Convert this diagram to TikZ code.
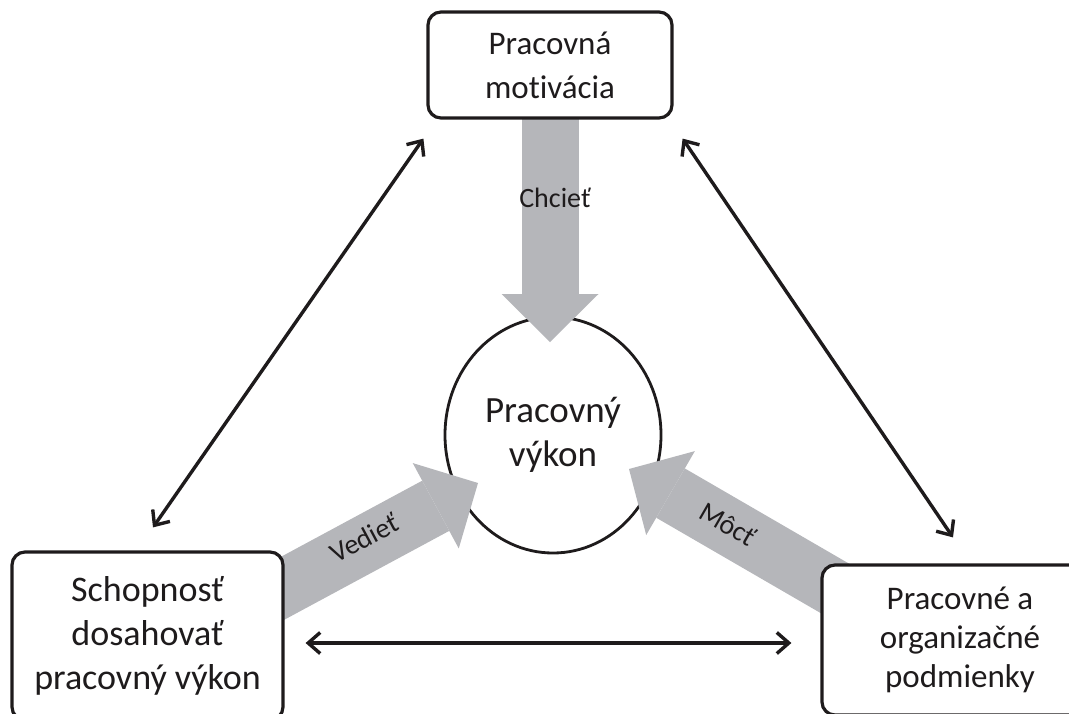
\documentclass[tikz,border=0pt]{standalone}
\usepackage{fontspec}
\setmainfont{Carlito}[Ligatures=NoCommon]
\usetikzlibrary{arrows.meta,calc,shapes.geometric}
\definecolor{ink}{RGB}{30,27,28}
\definecolor{flow}{RGB}{181,182,186}
\pgfdeclarelayer{back}
\pgfdeclarelayer{mid}
\pgfsetlayers{back,mid,main}
\begin{document}
\begin{tikzpicture}[x=1pt,y=-1pt,
  box/.style={draw=ink, line width=3.2pt, fill=white, rounded corners=13pt,
    align=center, inner sep=0pt, text=ink},
  perfnode/.style={draw=ink, line width=2.8pt, fill=white, ellipse,
    minimum width=216pt, minimum height=236pt, inner sep=0pt, align=center, text=ink},
  flowarrow/.style={draw=flow, line width=57pt,
    -{Triangle[width=97pt,length=48pt,line width=0pt]}},
  flowlabel/.style={font=\fontsize{28}{32}\selectfont, text=ink},
  link/.style={draw=ink, line width=3.4pt,
    {Straight Barb[length=12pt,width=21pt]}-{Straight Barb[length=12pt,width=21pt]}}
]
\clip (0,0) rectangle (1069,713);

% the three factor boxes
\node[box, minimum width=244pt, minimum height=106pt,
  font=\fontsize{33}{44}\selectfont] (mot) at (550,65) {Pracovná\\mot\kern0pt ivácia};
\node[box, minimum width=271pt, minimum height=168pt,
  font=\fontsize{36}{44}\selectfont] (sch) at (147.5,636) {Schopnosť\\dosahovať\\pracovný výkon};
\node[box, minimum width=276pt, minimum height=150pt,
  font=\fontsize{33}{39}\selectfont] (org) at (960,640) {Pracovné a\\organizačné\\podmienky};

% performance in the middle
\begin{pgfonlayer}{back}
\node[perfnode, font=\fontsize{37}{44}\selectfont] (perf) at (553,435) {Pracovný\\výkon};
\end{pgfonlayer}

% broad grey flows into performance
\coordinate (tipC) at (550,342);
\coordinate (tipV) at (478,483);
\coordinate (tipM) at (629,469);
\begin{pgfonlayer}{mid}
\draw[flowarrow] (mot.center) -- (tipC);
\draw[flowarrow] ($(sch.east)+(-33,-31)$) -- (tipV);
\draw[flowarrow] ($(org.west)+(38,-38)$) -- (tipM);
\node[flowlabel] (lc) at (555,198) {Chcieť};
\node[flowlabel, rotate=28] (lv) at (364,538) {Vedieť};
\node[flowlabel, rotate=-30] (lm) at (728,524) {Môcť};
\end{pgfonlayer}

% mutual links between the factors
\draw[link] ($(mot.south west)+(-3,19)$) -- ($(sch.north)+(5.5,-23)$);
\draw[link] ($(mot.south east)+(9,19)$) -- ($(org.north)+(-7,-26)$);
\draw[link] ($(sch.east)+(21,7)$) -- ($(org.west)+(-29,3)$);
\end{tikzpicture}
\end{document}
